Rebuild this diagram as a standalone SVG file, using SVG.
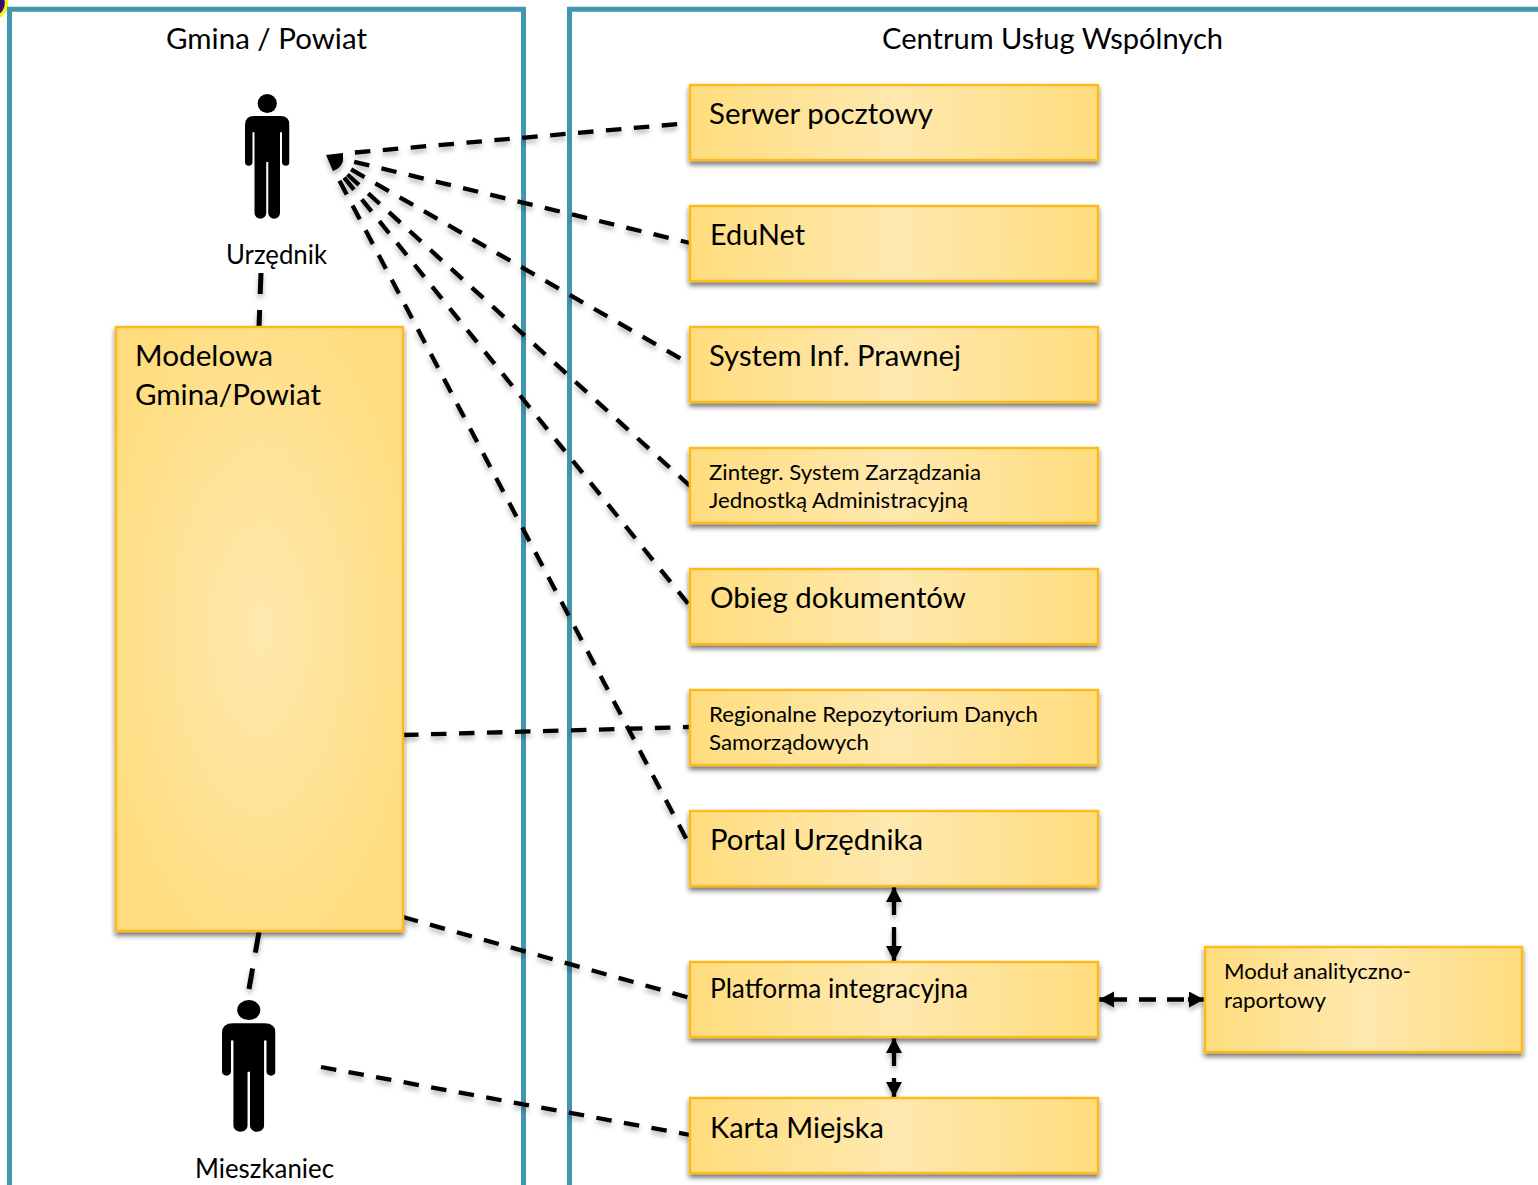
<svg xmlns="http://www.w3.org/2000/svg" xmlns:xlink="http://www.w3.org/1999/xlink" width="1538" height="1185" viewBox="0 0 1538 1185">
<style>
text{font-family:"Lato","Carlito","Open Sans",sans-serif;fill:#000}
.panel{fill:none;stroke:#4197ae;stroke-width:5}
.box{stroke:#ffb91a;stroke-width:2.4;fill:url(#g);filter:url(#sh)}
.tall{fill:url(#gt)}
.big{font-size:29px}.mid{font-size:27px}.sm{font-size:22px}
.c{fill:none;stroke:#000;stroke-width:4.3;stroke-dasharray:15.500 12.500}
.t{stroke-width:5;stroke-dasharray:21 16}
.cs{filter:url(#lsh)}
</style>
<defs>
<linearGradient id="g" x1="0" y1="0" x2="1" y2="0"><stop offset="0" stop-color="#ffdd7e"/><stop offset=".5" stop-color="#fee8ae"/><stop offset="1" stop-color="#ffdd7e"/></linearGradient>
<radialGradient id="gt" cx="50%" cy="50%" r="60%"><stop offset="0" stop-color="#fee8ae"/><stop offset="1" stop-color="#ffdd7e"/></radialGradient>
<filter id="sh" x="-5%" y="-10%" width="110%" height="130%"><feDropShadow dx="0" dy="3.500" stdDeviation="2.800" flood-color="#000" flood-opacity=".55"/></filter>
<filter id="lsh" filterUnits="userSpaceOnUse" x="0" y="0" width="1538" height="1185"><feDropShadow dx="0" dy="3.500" stdDeviation="2.800" flood-color="#000" flood-opacity=".3"/></filter>
<marker id="a" markerUnits="userSpaceOnUse" markerWidth="17" markerHeight="17" refX="15" refY="8" orient="auto-start-reverse"><path d="M0,0L15,8L0,16Z" fill="#000"/></marker>
<symbol id="person" viewBox="0 0 44 125" preserveAspectRatio="none">
<circle cx="22" cy="9.500" r="9.500"/>
<path d="M9,22H35Q44,22 44,31V68a3.700,3.700 0 0 1-7.400,0V39a1,1 0 0 0-2,0V119a5.800,5.800 0 0 1-11.600,0V68H21V119a5.800,5.800 0 0 1-11.600,0V39a1,1 0 0 0-2,0V68a3.700,3.700 0 0 1-7.400,0V31Q0,22 9,22Z"/>
</symbol>
</defs>
<rect width="1538" height="1185" fill="#fff"/>
<circle id="corner" cx="-9" cy="3" r="15.500" fill="#3a0a6e" stroke="#f2f21e" stroke-width="3.500"/>
<g id="panel-gmina"><path class="panel" d="M9.500,1190V9.200H523.500V1190"/><text class="big" x="166" y="49" textLength="201" lengthAdjust="spacingAndGlyphs">Gmina / Powiat</text></g>
<g id="panel-cuw"><path class="panel" d="M569.500,1190V9.200H1545"/><text class="big" x="882" y="49" textLength="341" lengthAdjust="spacingAndGlyphs">Centrum Usług Wspólnych</text></g>
<g id="connectors" class="cs">
<path class="c" d="M354.900,152.500L690,123"/>
<path class="c" d="M354.200,161.800L690,243"/>
<path class="c" d="M351.100,169.400L685,361"/>
<path class="c" d="M347.500,174.500L690,486"/>
<path class="c" d="M344.200,177.600L690,606"/>
<path class="c" d="M339.500,180.700L688,842"/>
<path d="M326,155L343,153L343,161Q341,168 333,171Z" fill="#000"/>
<path class="c t" d="M261,273L259,327"/>
<path class="c t" d="M259,932L249,989"/>
<path class="c" d="M403,735L690,727"/>
<path class="c" d="M403,917L690,998"/>
<path class="c" d="M321,1067L690,1135"/>
<path class="c" style="stroke-dasharray:28 12 34" d="M894,887V961" marker-start="url(#a)" marker-end="url(#a)"/>
<path class="c" style="stroke-dasharray:28 12 19" d="M894,1038V1097" marker-start="url(#a)" marker-end="url(#a)"/>
<path class="c" style="stroke-dasharray:28 12 17 11 17 4 16" d="M1099,999.500H1204" marker-start="url(#a)" marker-end="url(#a)"/>
</g>
<g id="urzednik"><use xlink:href="#person" href="#person" x="245" y="94" width="44.500" height="125"/><text class="mid" x="226" y="264" textLength="101" lengthAdjust="spacingAndGlyphs">Urzędnik</text></g>
<g id="mieszkaniec"><use xlink:href="#person" href="#person" x="222" y="1000" width="53.500" height="132"/><text class="mid" x="195" y="1178" textLength="139" lengthAdjust="spacingAndGlyphs">Mieszkaniec</text></g>
<g id="modelowa"><rect class="box tall" x="116" y="327" width="287" height="604"/><text class="big" x="135" y="366" textLength="138" lengthAdjust="spacingAndGlyphs">Modelowa</text><text class="big" x="135" y="405" textLength="186" lengthAdjust="spacingAndGlyphs">Gmina/Powiat</text></g>
<g id="serwer"><rect class="box" x="690" y="85" width="408" height="75"/><text class="big" x="709" y="124" textLength="224" lengthAdjust="spacingAndGlyphs">Serwer pocztowy</text></g>
<g id="edunet"><rect class="box" x="690" y="206" width="408" height="75"/><text class="big" x="710" y="245" textLength="95" lengthAdjust="spacingAndGlyphs">EduNet</text></g>
<g id="prawo"><rect class="box" x="690" y="327" width="408" height="75"/><text class="big" x="709" y="366" textLength="252" lengthAdjust="spacingAndGlyphs">System Inf. Prawnej</text></g>
<g id="zintegr"><rect class="box" x="690" y="448" width="408" height="75"/><text class="sm" x="709" y="480" textLength="272" lengthAdjust="spacingAndGlyphs">Zintegr. System Zarządzania</text><text class="sm" x="709" y="508" textLength="259" lengthAdjust="spacingAndGlyphs">Jednostką Administracyjną</text></g>
<g id="obieg"><rect class="box" x="690" y="569" width="408" height="75"/><text class="big" x="710" y="608" textLength="256" lengthAdjust="spacingAndGlyphs">Obieg dokumentów</text></g>
<g id="repozytorium"><rect class="box" x="690" y="690" width="408" height="75"/><text class="sm" x="709" y="722" textLength="329" lengthAdjust="spacingAndGlyphs">Regionalne Repozytorium Danych</text><text class="sm" x="709" y="750" textLength="160" lengthAdjust="spacingAndGlyphs">Samorządowych</text></g>
<g id="portal"><rect class="box" x="690" y="811" width="408" height="75"/><text class="big" x="710" y="850" textLength="213" lengthAdjust="spacingAndGlyphs">Portal Urzędnika</text></g>
<g id="platforma"><rect class="box" x="690" y="962" width="408" height="75"/><text class="mid" x="710" y="998" textLength="258" lengthAdjust="spacingAndGlyphs">Platforma integracyjna</text></g>
<g id="karta"><rect class="box" x="690" y="1098" width="408" height="75"/><text class="big" x="710" y="1138" textLength="174" lengthAdjust="spacingAndGlyphs">Karta Miejska</text></g>
<g id="modul"><rect class="box" x="1205" y="947" width="317" height="105"/><text class="sm" x="1224" y="979" textLength="187" lengthAdjust="spacingAndGlyphs">Moduł analityczno-</text><text class="sm" x="1224" y="1008" textLength="102" lengthAdjust="spacingAndGlyphs">raportowy</text></g>
</svg>
